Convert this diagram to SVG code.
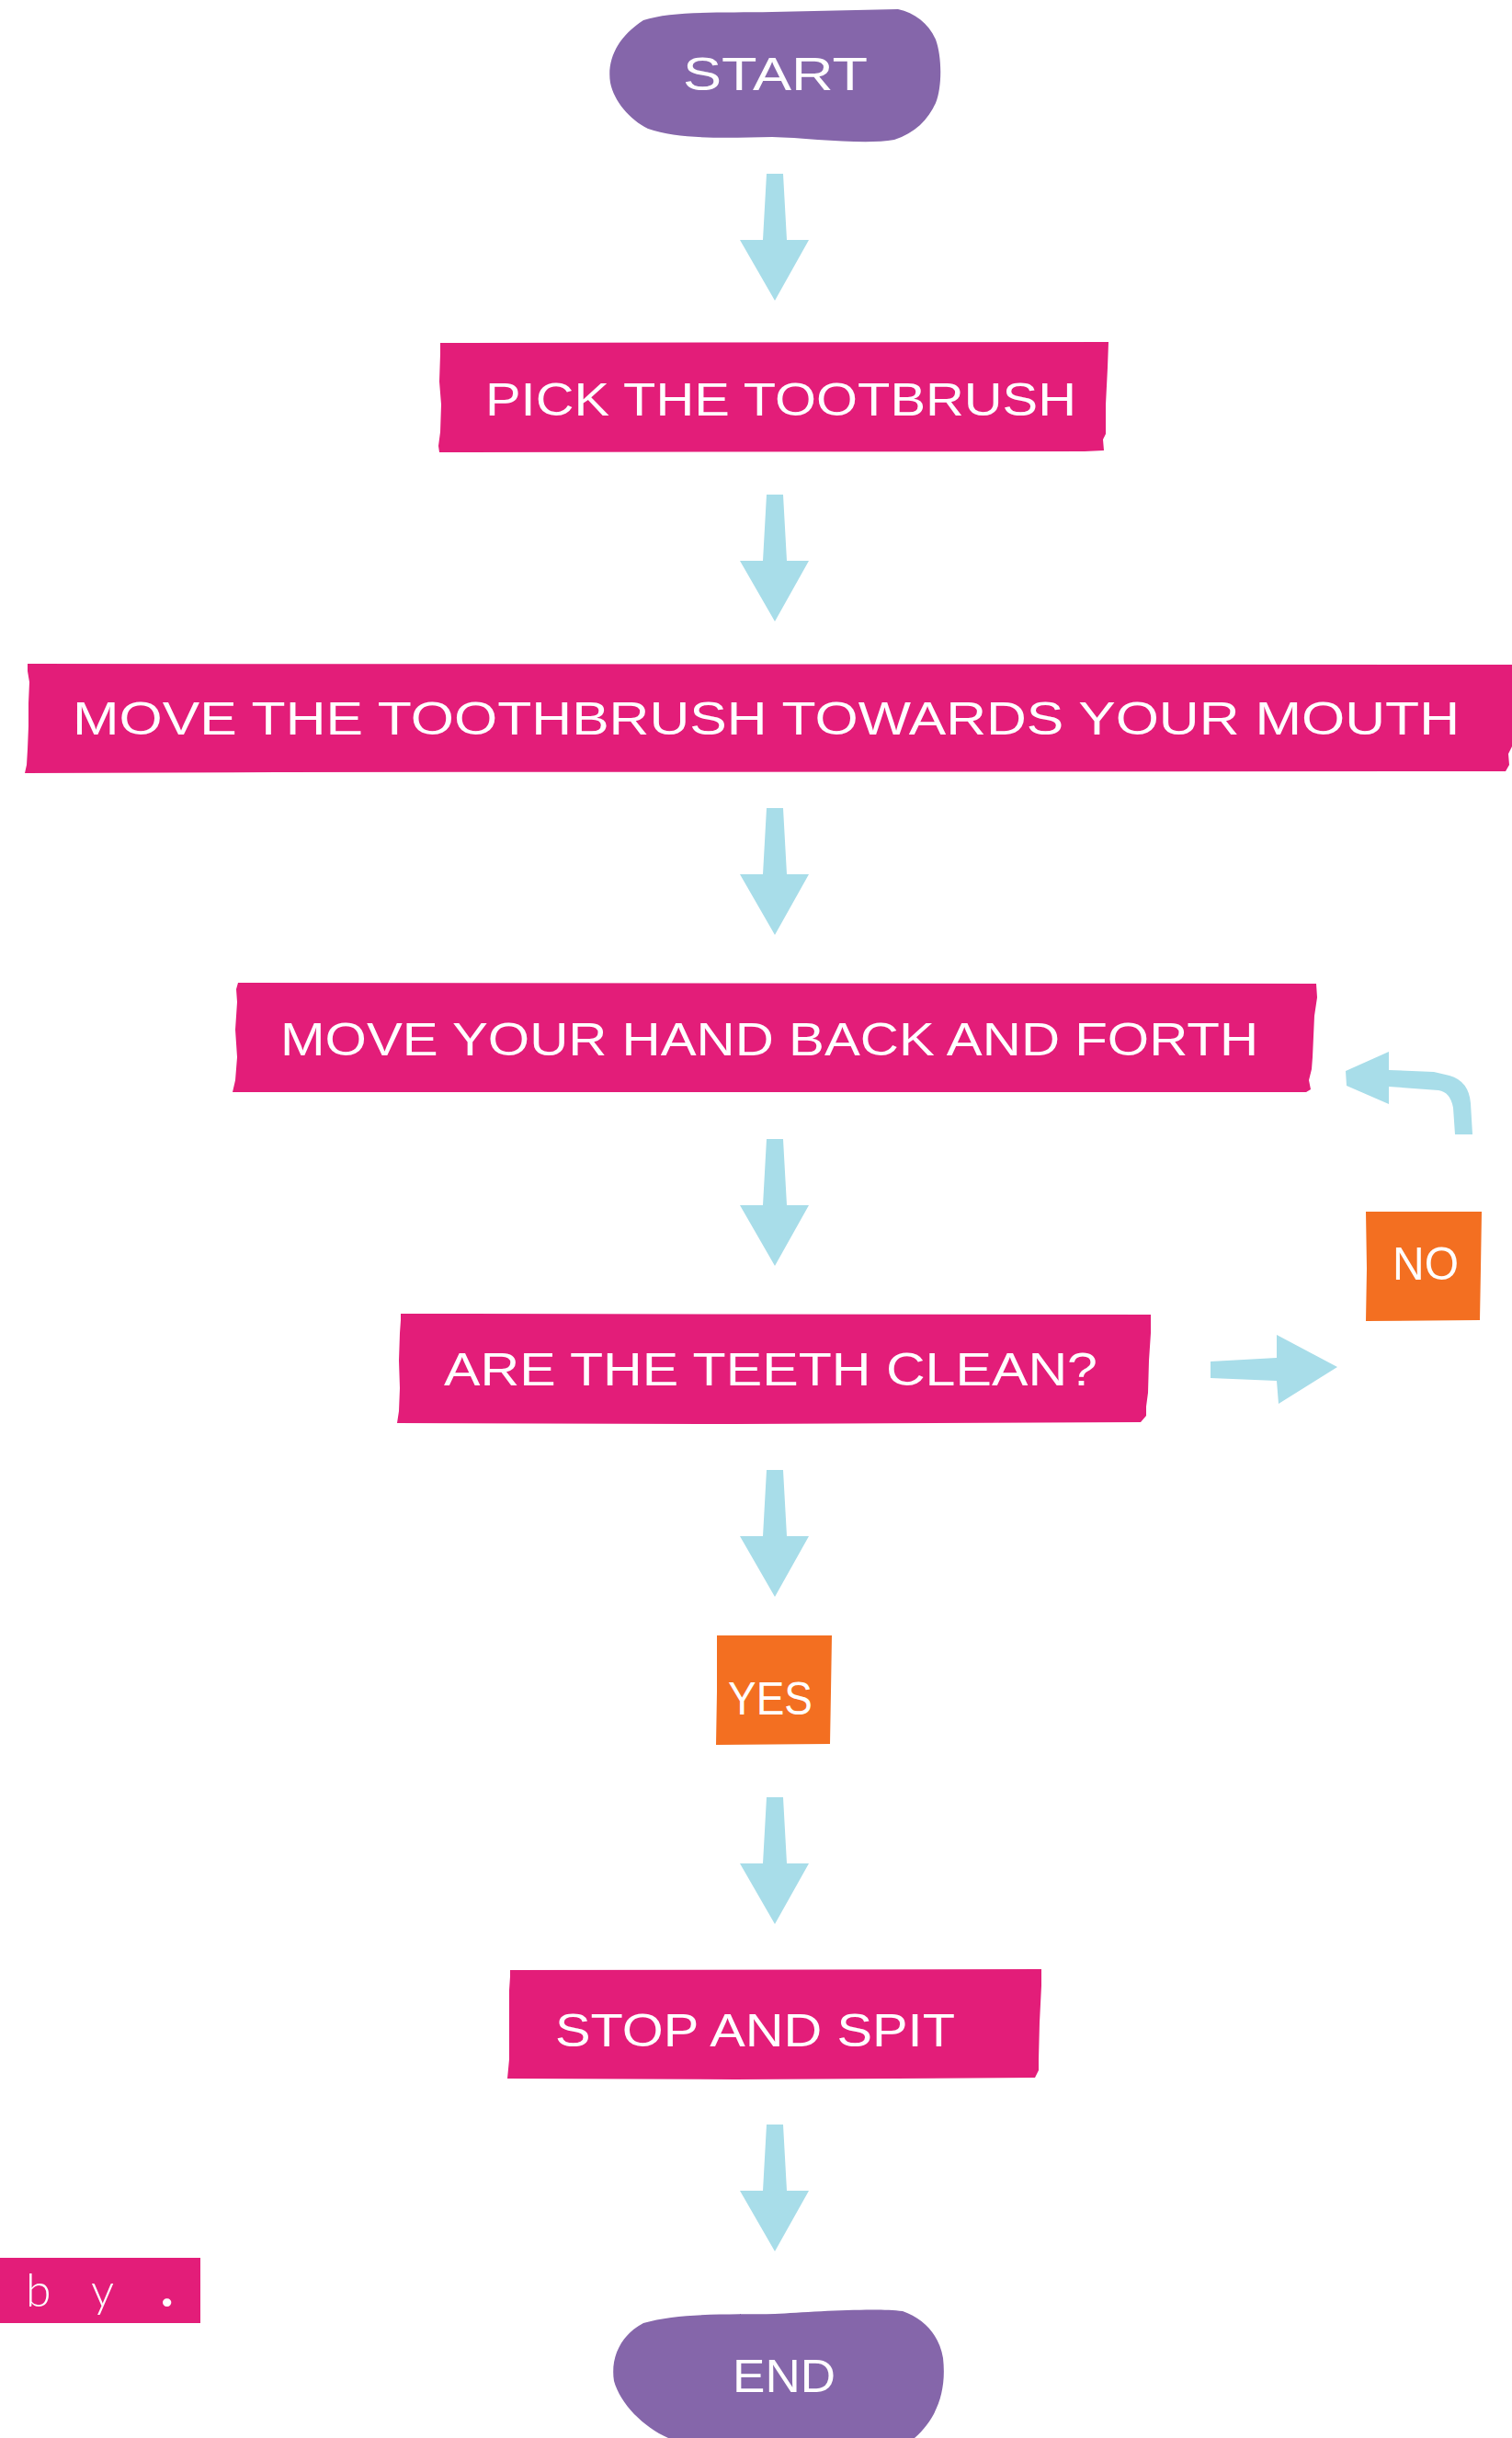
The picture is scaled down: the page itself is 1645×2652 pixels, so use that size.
<svg xmlns="http://www.w3.org/2000/svg" width="1645" height="2652" viewBox="0 0 1645 2652">
<style>
.term{fill:#8566aa}
.box{fill:#e31d79}
.ans{fill:#f36f21}
.arr{fill:#a8dde9}
.lbl{fill:#ffffff;font-family:"Liberation Sans","DejaVu Sans",sans-serif;font-size:50px}
.by{fill:#ffffff;font-family:Lato,"Open Sans",sans-serif;font-weight:300;font-size:50px}
</style>
<defs>
<path id="down" d="M -9,0 L 9,0 L 13,72 L 37,72 L 0,138 L -38,72 L -13,72 Z"/>
</defs>
<rect width="1645" height="2652" fill="#ffffff"/>
<g id="connectors">
<use href="#down" class="arr" x="843" y="189"/>
<use href="#down" class="arr" x="843" y="538"/>
<use href="#down" class="arr" x="843" y="879"/>
<use href="#down" class="arr" x="843" y="1239"/>
<use href="#down" class="arr" x="843" y="1599"/>
<use href="#down" class="arr" x="843" y="1955"/>
<use href="#down" class="arr" x="843" y="2311"/>
<path class="arr" d="M 1317,1481 L 1389,1477 L 1389,1452 L 1455,1487 L 1391,1527 L 1389,1502 L 1317,1499 Z"/>
<path class="arr" d="M 1511,1144 L 1464,1165 L 1465,1181 L 1511,1201 L 1511,1182 L 1565,1186 Q 1578,1188 1581,1205 L 1583,1234 L 1602,1234 L 1600,1200 Q 1598,1176 1577,1170 L 1560,1166 L 1511,1164 Z"/>
</g>
<g id="start">
<path class="term" d="M 700,22 C 730,12 780,14 840,13 L 977,10 C 995,14 1010,25 1018,43 C 1025,62 1025,95 1018,112 C 1010,130 995,145 973,152 C 940,158 880,150 840,149 C 790,150 740,152 705,140 C 685,130 668,110 664,90 C 660,65 672,40 700,22 Z"/>
<text class="lbl" x="743" y="98" textLength="201" lengthAdjust="spacingAndGlyphs" font-size="54">START</text>
</g>
<g id="pick">
<path class="box" d="M 479,373 L 1206,372 L 1205,400 L 1203,440 L 1203,472 L 1200,478 L 1201,490 L 1180,491 L 478,492 L 477,485 L 479,470 L 480,440 L 478,415 L 479,385 Z"/>
<text class="lbl" x="528" y="452" textLength="643" lengthAdjust="spacingAndGlyphs">PICK THE TOOTBRUSH</text>
</g>
<g id="move1">
<path class="box" d="M 30,722 L 1645,723 L 1645,812 L 1641,820 L 1642,832 L 1638,839 L 300,840 L 27,841 L 29,832 L 30,815 L 31,790 L 31,765 L 32,742 L 30,730 Z"/>
<text class="lbl" x="79" y="799" textLength="1509" lengthAdjust="spacingAndGlyphs">MOVE THE TOOTHBRUSH TOWARDS YOUR MOUTH</text>
</g>
<g id="move2">
<path class="box" d="M 259,1069 L 1432,1070 L 1433,1085 L 1430,1105 L 1428,1150 L 1427,1163 L 1424,1175 L 1426,1185 L 1421,1188 L 253,1188 L 256,1175 L 258,1150 L 256,1120 L 258,1090 L 257,1076 Z"/>
<text class="lbl" x="305" y="1148" textLength="1064" lengthAdjust="spacingAndGlyphs">MOVE YOUR HAND BACK AND FORTH</text>
</g>
<g id="clean">
<path class="box" d="M 436,1429 L 1252,1430 L 1252,1450 L 1250,1480 L 1249,1515 L 1247,1530 L 1247,1540 L 1241,1547 L 800,1549 L 432,1548 L 434,1535 L 435,1510 L 434,1480 L 435,1450 L 436,1436 Z"/>
<text class="lbl" x="483" y="1507" textLength="711" lengthAdjust="spacingAndGlyphs">ARE THE TEETH CLEAN?</text>
</g>
<g id="no">
<path class="ans" d="M 1486,1318 L 1612,1318 L 1611,1380 L 1610,1436 L 1486,1437 L 1487,1380 Z"/>
<text class="lbl" x="1515" y="1392" textLength="72" lengthAdjust="spacingAndGlyphs" font-size="40">NO</text>
</g>
<g id="yes">
<path class="ans" d="M 780,1779 L 905,1779 L 904,1840 L 903,1897 L 779,1898 L 780,1840 Z"/>
<text class="lbl" x="792" y="1865" textLength="92" lengthAdjust="spacingAndGlyphs" font-size="48">YES</text>
</g>
<g id="stop">
<path class="box" d="M 555,2143 L 1133,2142 L 1133,2160 L 1131,2200 L 1130,2240 L 1130,2252 L 1126,2260 L 800,2262 L 552,2261 L 554,2240 L 554,2200 L 554,2165 L 555,2150 Z"/>
<text class="lbl" x="604" y="2226" textLength="435" lengthAdjust="spacingAndGlyphs">STOP AND SPIT</text>
</g>
<g id="by">
<rect class="box" x="0" y="2456" width="218" height="71"/>
<text class="by" x="28 60 99 140 175" y="2509">b y <tspan font-weight="900" font-size="56">.</tspan></text>
</g>
<g id="end">
<path class="term" d="M 700,2527 C 740,2515 800,2518 843,2517 C 880,2515 950,2510 982,2514 C 1005,2522 1022,2540 1026,2565 C 1030,2600 1020,2630 995,2652 L 727,2652 C 700,2640 675,2615 668,2590 C 664,2565 675,2540 700,2527 Z"/>
<text class="lbl" x="797" y="2602" textLength="112" lengthAdjust="spacingAndGlyphs" font-size="46">END</text>
</g>
</svg>
